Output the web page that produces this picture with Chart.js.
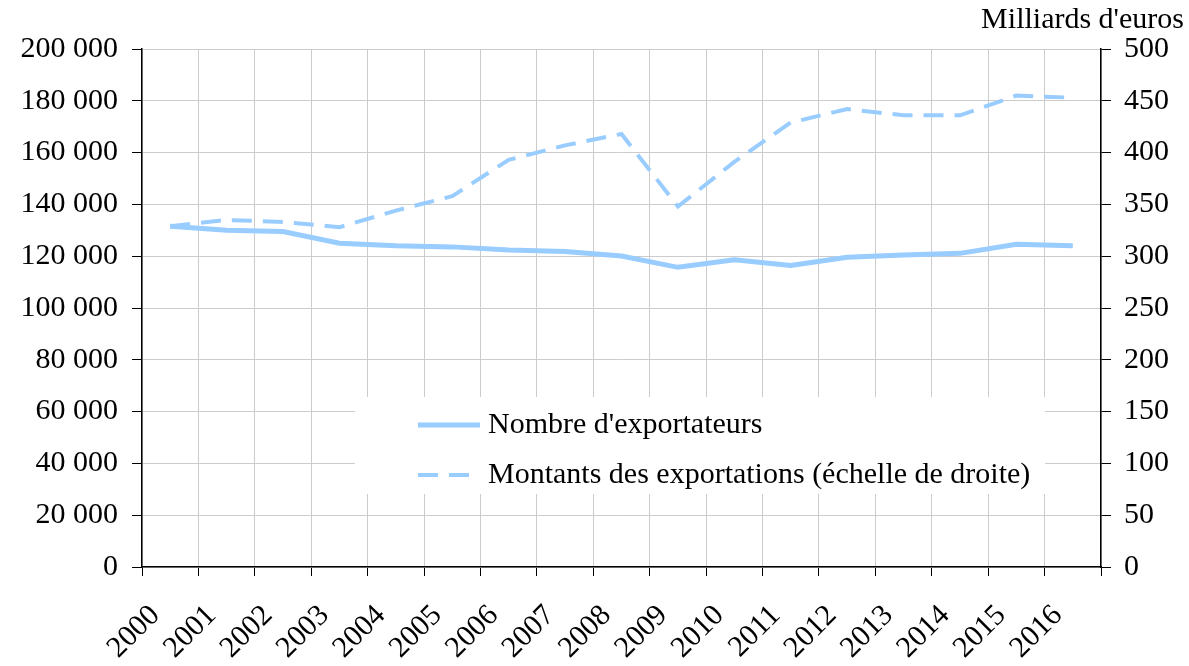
<!DOCTYPE html>
<html lang="fr">
<head>
<meta charset="utf-8">
<title>Exportateurs</title>
<script src="https://cdn.jsdelivr.net/npm/chart.js@4/dist/chart.umd.min.js"></script>
<style>
  html, body { margin: 0; padding: 0; background: #fff; }
  #wrap { width: 1189px; height: 666px; position: relative; }
</style>
</head>
<body>
<div id="wrap"><canvas id="exportChart"></canvas></div>
<script>
/* Nombre d'exportateurs et montants exportés, 2000-2016 */

const YEARS = ['2000', '2001', '2002', '2003', '2004', '2005', '2006', '2007', '2008',
  '2009', '2010', '2011', '2012', '2013', '2014', '2015', '2016'];

const EXPORTATEURS = [131600, 130000, 129500, 125000, 124000, 123600, 122400, 121800, 120100,
  115700, 118600, 116400, 119600, 120500, 121100, 124600, 124000];

const MONTANTS = [329, 335, 333, 328, 344, 358, 393, 407, 418,
  348, 391, 429, 442, 436, 436, 455, 453];

const LEFT_TICKS = [0, 20000, 40000, 60000, 80000, 100000, 120000, 140000, 160000, 180000, 200000];
const RIGHT_TICKS = [0, 50, 100, 150, 200, 250, 300, 350, 400, 450, 500];

const UNIT_LABEL = "Milliards d'euros";

const BLUE = '#99ccff';
const GRID = '#cccccc';
const FONT = { family: "'Liberation Serif', 'Times New Roman', serif", size: 30 };

const fmtThousands = (v) => String(v).replace(/\B(?=(\d{3})+(?!\d))/g, ' ');

// legend drawn inside the plot on a white box, plus the unit label top right
const boxLegend = {
  id: 'boxLegend',
  beforeDatasetsDraw(chart, args, opts) {
    const ctx = chart.ctx;
    ctx.save();
    ctx.fillStyle = '#fff';
    ctx.fillRect(opts.x, opts.y, opts.w, opts.h);
    ctx.font = FONT.size + 'px ' + FONT.family;
    ctx.textBaseline = 'middle';
    chart.data.datasets.forEach((ds, i) => {
      const y = opts.y + opts.firstRow + i * opts.rowGap;
      ctx.strokeStyle = ds.borderColor;
      ctx.lineWidth = ds.borderWidth;
      ctx.setLineDash(ds.borderDash || []);
      ctx.beginPath();
      ctx.moveTo(opts.x + opts.sampleX, y);
      ctx.lineTo(opts.x + opts.sampleX + opts.sampleW, y);
      ctx.stroke();
      ctx.setLineDash([]);
      ctx.fillStyle = '#000';
      ctx.textAlign = 'left';
      ctx.fillText(ds.label, opts.x + opts.sampleX + opts.sampleW + 8, y);
    });
    ctx.textAlign = 'right';
    ctx.fillText(UNIT_LABEL, opts.unitX, opts.unitY);
    ctx.restore();
  },
};

new Chart(document.getElementById('exportChart'), {
  type: 'line',
  data: {
    labels: YEARS,
    datasets: [
      {
        label: "Nombre d'exportateurs",
        data: EXPORTATEURS,
        yAxisID: 'y',
        borderColor: BLUE,
        borderWidth: 5,
        pointRadius: 0,
        tension: 0,
      },
      {
        label: 'Montants des exportations (échelle de droite)',
        data: MONTANTS,
        yAxisID: 'y2',
        borderColor: BLUE,
        borderWidth: 4,
        borderDash: [20, 11],
        pointRadius: 0,
        tension: 0,
      },
    ],
  },
  plugins: [boxLegend],
  options: {
    responsive: true,
    maintainAspectRatio: false,
    animation: false,
    layout: { padding: { top: 49, right: 0, left: 0, bottom: 0 } },
    plugins: {
      legend: { display: false },
      tooltip: { enabled: false },
      title: { display: false },
      boxLegend: { x: 355, y: 397, w: 690, h: 97, sampleX: 63, sampleW: 62, firstRow: 28, rowGap: 50, unitX: 1184, unitY: 20 },
    },
    scales: {
      x: {
        offset: true,
        grid: { offset: true, color: GRID, tickColor: '#000', tickLength: 9 },
        border: { color: '#000', width: 1.5 },
        ticks: { color: '#000', font: FONT, minRotation: 45, maxRotation: 45, autoSkip: false, padding: 22, labelOffset: -15 },
        afterFit(scale) { scale.height = 99; },
      },
      y: {
        position: 'left',
        min: 0,
        max: 200000,
        afterBuildTicks(scale) { scale.ticks = LEFT_TICKS.map(v => ({ value: v })); },
        grid: { color: GRID, tickColor: '#000', tickLength: 10 },
        border: { color: '#000', width: 1.5 },
        ticks: { color: '#000', font: FONT, padding: 14, callback: (v) => fmtThousands(v) },
        afterFit(scale) { scale.width = 142; },
      },
      y2: {
        position: 'right',
        min: 0,
        max: 500,
        afterBuildTicks(scale) { scale.ticks = RIGHT_TICKS.map(v => ({ value: v })); },
        grid: { drawOnChartArea: false, tickColor: '#000', tickLength: 10 },
        border: { color: '#000', width: 1.5 },
        ticks: { color: '#000', font: FONT, padding: 13 },
        afterFit(scale) { scale.width = 88; },
      },
    },
  },
});
</script>
</body>
</html>
